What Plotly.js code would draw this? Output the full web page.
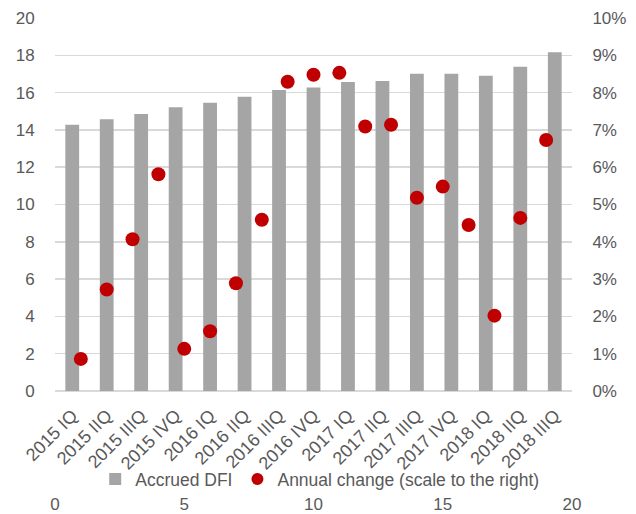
<!DOCTYPE html>
<html>
<head>
<meta charset="utf-8">
<script src="https://cdn.plot.ly/plotly-3.0.1.min.js"></script>
<style>
  html, body { margin: 0; padding: 0; background: #fff; }
  #chart { width: 636px; height: 514px; }
</style>
</head>
<body>
<div id="chart"></div>
<script>
// Quarterly accrued DFI (left axis)
const quarters = [
  '2015 IQ', '2015 IIQ', '2015 IIIQ', '2015 IVQ',
  '2016 IQ', '2016 IIQ', '2016 IIIQ', '2016 IVQ',
  '2017 IQ', '2017 IIQ', '2017 IIIQ', '2017 IVQ',
  '2018 IQ', '2018 IIQ', '2018 IIIQ'
];
const accruedDFI = [14.28, 14.57, 14.85, 15.21, 15.46, 15.78, 16.14, 16.28,
                    16.57, 16.62, 17.01, 17.01, 16.91, 17.39, 18.16];

// Annual change in percent (right axis), plotted on the 0–20 secondary x scale
const changeX = [1, 2, 3, 4, 5, 6, 7, 8, 9, 10, 11, 12, 13, 14, 15, 16, 17, 18, 19];
const annualChange = [0.86, 2.72, 4.07, 5.81, 1.13, 1.60, 2.89, 4.59, 8.29, 8.48,
                      8.53, 7.09, 7.14, 5.18, 5.48, 4.45, 2.02, 4.64, 6.73];

const textColor = '#595959';
const gridColor = '#D9D9D9';
const fontFamily = 'Liberation Sans, Arial, sans-serif';
const fs = 17;

const traces = [
  {
    type: 'bar',
    name: 'Accrued DFI',
    x: quarters,
    y: accruedDFI,
    xaxis: 'x',
    yaxis: 'y',
    marker: { color: '#A5A5A5' },
    hoverinfo: 'skip'
  },
  {
    type: 'scatter',
    mode: 'markers',
    name: 'Annual change (scale to the right)',
    x: changeX,
    y: annualChange,
    xaxis: 'x2',
    yaxis: 'y2',
    marker: { color: '#C00000', size: 14 },
    hoverinfo: 'skip'
  }
];

const layout = {
  width: 636,
  height: 514,
  margin: { l: 55, r: 64, t: 18, b: 22 },
  paper_bgcolor: '#ffffff',
  plot_bgcolor: '#ffffff',
  font: { family: fontFamily, size: fs, color: textColor },
  bargap: 0.6,
  showlegend: true,
  legend: {
    orientation: 'h',
    x: 0.512, xanchor: 'center',
    y: 0.027, yanchor: 'middle',
    font: { family: fontFamily, size: 17.5, color: textColor },
    itemwidth: 30,
    itemsizing: 'constant',
    bgcolor: 'rgba(0,0,0,0)'
  },
  xaxis: {
    type: 'category',
    range: [-0.5, 14.5],
    tickangle: -45,
    showgrid: false,
    zeroline: false,
    showline: false,
    ticks: 'outside',
    ticklen: 6,
    tickcolor: 'rgba(0,0,0,0)',
    tickfont: { family: fontFamily, size: 18, color: textColor },
    anchor: 'y'
  },
  xaxis2: {
    range: [0, 20],
    dtick: 5,
    overlaying: 'x',
    anchor: 'free',
    position: 0,
    side: 'bottom',
    showgrid: false,
    zeroline: false,
    showline: false,
    ticks: '',
    tickfont: { family: fontFamily, size: fs, color: textColor }
  },
  yaxis: {
    domain: [0.2131, 1],
    range: [0, 20],
    dtick: 2,
    showgrid: true,
    gridcolor: gridColor,
    gridwidth: 1.5,
    zeroline: true,
    zerolinecolor: gridColor,
    zerolinewidth: 1.5,
    showline: false,
    ticks: 'outside',
    ticklen: 16,
    tickcolor: 'rgba(0,0,0,0)',
    tickfont: { family: fontFamily, size: fs, color: textColor }
  },
  yaxis2: {
    range: [0, 10],
    dtick: 1,
    ticksuffix: '%',
    overlaying: 'y',
    side: 'right',
    anchor: 'x',
    showgrid: false,
    zeroline: false,
    showline: false,
    ticks: 'outside',
    ticklen: 16,
    tickcolor: 'rgba(0,0,0,0)',
    tickfont: { family: fontFamily, size: fs, color: textColor }
  }
};

Plotly.newPlot('chart', traces, layout, { staticPlot: true, displayModeBar: false });
</script>
</body>
</html>
